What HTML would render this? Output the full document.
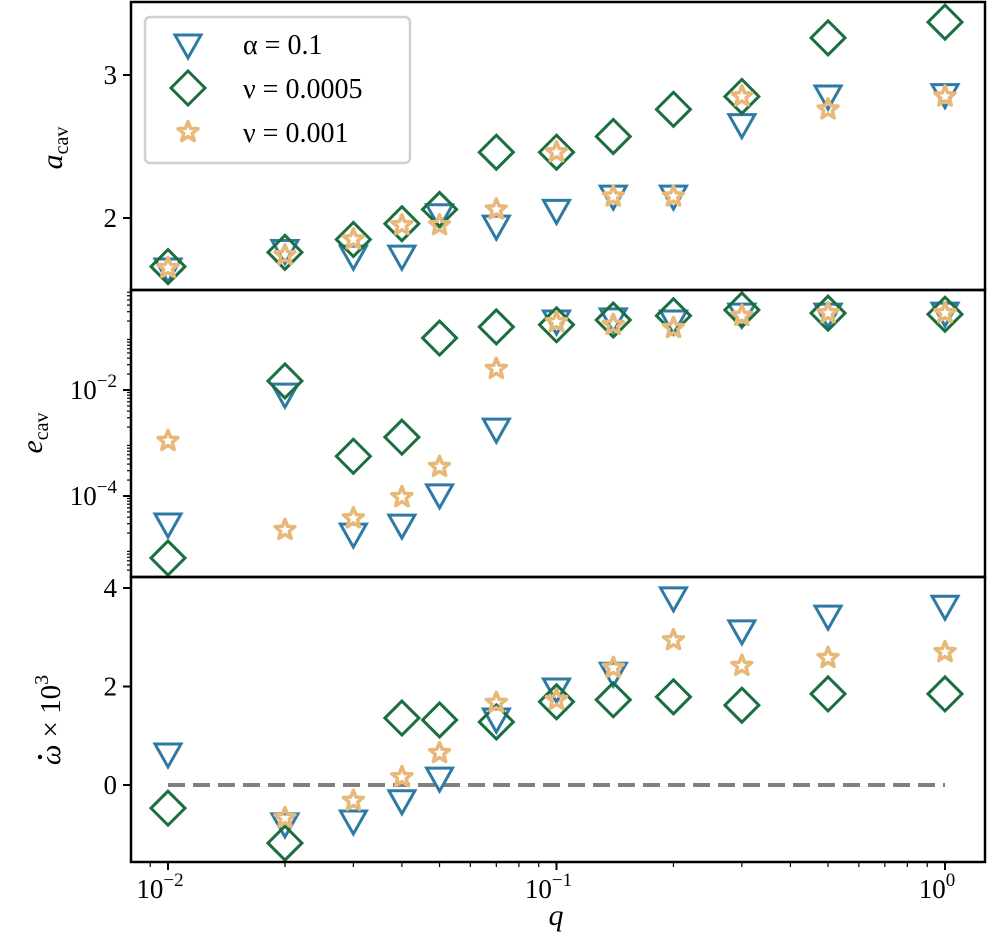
<!DOCTYPE html>
<html><head><meta charset="utf-8"><style>
body{margin:0;background:#fff;}
svg text{font-family:"Liberation Serif",serif;fill:#000;}
</style></head><body>
<svg id="chart" width="987" height="946" xmlns="http://www.w3.org/2000/svg"></svg>
<script>
const qVals=[0.01,0.02,0.03,0.04,0.05,0.07,0.1,0.14,0.2,0.3,0.5,1.0];
const aAlpha=[1.65,1.78,1.74,1.74,2.03,1.95,2.06,2.16,2.16,2.66,2.86,2.87];
const aNu5=[1.66,1.76,1.85,1.96,2.06,2.46,2.46,2.57,2.76,2.85,3.26,3.37];
const aNu1=[1.65,1.74,1.85,1.95,1.95,2.06,2.46,2.15,2.15,2.85,2.76,2.85];
const eAlpha=[-4.51,-2.06,-4.70,-4.53,-3.96,-2.72,-0.68,-0.64,-0.68,-0.55,-0.55,-0.53];
const eNu5=[-5.17,-1.83,-3.25,-2.89,-1.02,-0.81,-0.77,-0.68,-0.60,-0.49,-0.55,-0.57];
const eNu1=[-2.96,-4.64,-4.42,-4.02,-3.45,-1.60,-0.72,-0.77,-0.83,-0.60,-0.55,-0.55];
const wAlpha=[0.65,-0.77,-0.71,-0.30,0.16,1.36,1.97,2.29,3.82,3.15,3.45,3.65];
const wNu5=[-0.47,-1.18,null,1.36,1.32,1.28,1.69,1.73,1.79,1.62,1.85,1.85];
const wNu1=[null,-0.67,-0.32,0.16,0.65,1.67,1.73,2.38,2.94,2.42,2.58,2.70];
const xTicks=[-2,-1,0];
const aTicks=[2,3];
const eTicks=[-2,-4];
const wTicks=[0,2,4];

const NS="http://www.w3.org/2000/svg";
const svg=document.getElementById('chart');
function el(t,a,p){const e=document.createElementNS(NS,t);for(const k in a)e.setAttribute(k,a[k]);(p||svg).appendChild(e);return e;}
const X0=131,X1=985;
const xs=q=>945+388.5*Math.log10(q);
const ya=v=>218-(v-2)*143;
const ye=v=>390-(v+2)*53;
const yw=v=>785-v*49.25;
const C1="#2e7aa5",C2="#1b6e3e",C3="#e8b878";

function tri(g,x,y){const p=el('polygon',{points:`${x-13},${y-9} ${x+13},${y-9} ${x},${y+14}`,fill:'none',stroke:C1,'stroke-width':3},g);}
function dia(g,x,y){const p=el('polygon',{points:`${x},${y-17} ${x+17},${y} ${x},${y+17} ${x-17},${y}`,fill:'none',stroke:C2,'stroke-width':3},g);}
function star(g,x,y){let pts=[];for(let i=0;i<10;i++){const r=i%2?4.5:10.5;const a=-Math.PI/2+i*Math.PI/5;pts.push((x+r*Math.cos(a)).toFixed(1)+','+(y+r*Math.sin(a)).toFixed(1));}
const p=el('polygon',{points:pts.join(' '),fill:'none',stroke:C3,'stroke-width':3.5,'stroke-linejoin':'round'},g);}

function series(vals,ymap,fn,name){const g=el('g',{});
vals.forEach((v,i)=>{if(v!==null)fn(g,xs(qVals[i]),ymap(v));});}

const panels=[[2,290,'top-panel'],[290,577,'middle-panel'],[577,862,'bottom-panel']];
const dl=el('line',{x1:xs(0.01),x2:xs(1),y1:yw(0),y2:yw(0),stroke:'#808080','stroke-width':4,'stroke-dasharray':'17,8'});


series(aAlpha,ya,tri,'a-alpha-series');series(aNu5,ya,dia,'a-nu0005-series');series(aNu1,ya,star,'a-nu001-series');
series(eAlpha,ye,tri,'e-alpha-series');series(eNu5,ye,dia,'e-nu0005-series');series(eNu1,ye,star,'e-nu001-series');
series(wAlpha,yw,tri,'w-alpha-series');series(wNu5,yw,dia,'w-nu0005-series');series(wNu1,yw,star,'w-nu001-series');

panels.forEach(p=>{const r=el('rect',{x:X0,y:p[0],width:X1-X0,height:p[1]-p[0],fill:'none',stroke:'#000','stroke-width':2.5});});

function ytick(y,label,sup){el('line',{x1:X0-8,x2:X0,y1:y,y2:y,stroke:'#000','stroke-width':2});
const t=el('text',{x:X0-14,y:y+9,'font-size':27,'text-anchor':'end'});
if(sup){t.textContent='10';const s=el('tspan',{dy:-12,'font-size':19},t);s.textContent=sup;}else t.textContent=label;}
aTicks.forEach(v=>ytick(ya(v),String(v)));
eTicks.forEach(v=>ytick(ye(v),'','−'+Math.abs(v)));
wTicks.forEach(v=>ytick(yw(v),String(v)));
for(let d=-6;d<0;d++)for(let m=2;m<10;m++){const y=ye(d+Math.log10(m));if(y>292&&y<575)el('line',{x1:X0-4,x2:X0,y1:y,y2:y,stroke:'#000','stroke-width':1.2});}
xTicks.forEach(v=>{const x=xs(Math.pow(10,v));el('line',{x1:x,x2:x,y1:862,y2:870,stroke:'#000','stroke-width':2});
const t=el('text',{x:x-8,y:898,'font-size':27,'text-anchor':'middle'});t.textContent='10';
const s=el('tspan',{dy:-12,'font-size':19},t);s.textContent=v===0?'0':'−'+Math.abs(v);});
for(let d=-3;d<1;d++)for(let m=2;m<10;m++){const x=xs(m*Math.pow(10,d));if(x>X0&&x<X1)el('line',{x1:x,x2:x,y1:862,y2:867,stroke:'#000','stroke-width':1.2});}
function title(txt,sub,x,y,rot,name){const t=el('text',{x:x,y:y,'font-size':30,'font-style':'italic','text-anchor':'middle',transform:rot?`rotate(-90 ${x} ${y})`:''});t.textContent=txt;
if(sub){const s=el('tspan',{dy:6,'font-size':20,'font-style':'normal'},t);s.textContent=sub;}return t;}
title('a','cav',62,148,true,'a-axis-title');
title('e','cav',42,433,true,'e-axis-title');
const wt=el('text',{x:60,y:720,'font-size':29,'text-anchor':'middle',transform:'rotate(-90 60 720)'});
wt.innerHTML='<tspan font-style="italic">ω</tspan> × 10<tspan dy="-12" font-size="20">3</tspan>';
const dot=el('circle',{cx:40,cy:757,r:2.2,fill:'#000'});
title('q','',556,925,false,'x-axis-title');
const lg=el('g',{});
el('rect',{x:145,y:17,width:265,height:146,rx:5,fill:'#fff',stroke:'#d0d0d0','stroke-width':2.5},lg);
tri(lg,188,44);dia(lg,188,88);star(lg,188,132);
[['α = 0.1',54],['ν = 0.0005',98],['ν = 0.001',142]].forEach(l=>{const t=el('text',{x:243,y:l[1],'font-size':28},lg);t.textContent=l[0];});
</script>
</body></html>
